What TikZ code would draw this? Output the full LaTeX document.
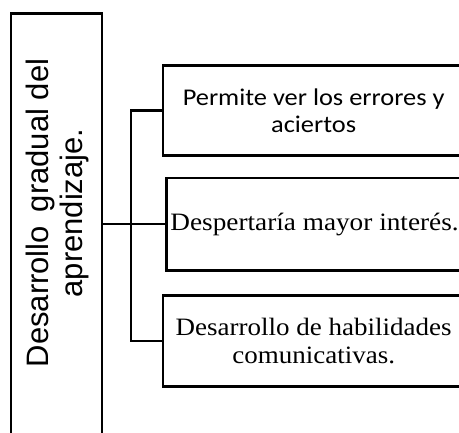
\documentclass[tikz,border=0pt]{standalone}
\usepackage{fontspec}
\setmainfont{Liberation Serif}
\newfontfamily\calfont{Carlito}
\newfontfamily\arialfont{Liberation Sans}
\usepackage{graphicx}
\newcommand{\hsx}[2][1.08]{\scalebox{#1}[1]{#2}}
\newcommand{\hcx}[1]{\scalebox{1.1}[1]{#1}}
\begin{document}
\begin{tikzpicture}[x=1pt,y=-1pt,
  box/.style={draw=black, line width=2.6pt, anchor=north west, inner sep=0pt, rectangle, align=center},
  conn/.style={draw=black, line width=2.5pt},
  thinconn/.style={draw=black, line width=1.9pt},
  sansbig/.style={font=\arialfont\fontsize{31}{34}\selectfont},
  calbox/.style={font=\calfont\fontsize{24}{27}\selectfont},
  timesbox/.style={font=\fontsize{25}{27.4}\selectfont}]
\useasboundingbox (0,0) rectangle (459,433);
\clip (0,0) rectangle (459,433);
% main box
\node[box, minimum width=91.2pt, minimum height=440pt] (main) at (9.5,12.5) {};
\node[rotate=90, align=center, sansbig, inner sep=0pt] (maintext) at (57,213)
  {Desarrollo\hspace{0.45em}gradual del\\aprendizaje.};
% boxes
\node[box, calbox, minimum width=301.3pt, minimum height=90pt] (b1) at (161.7,64)
  {\hcx{Permite ver los errores y}\\\hcx{aciertos}};
\node[box, timesbox, minimum width=296.5pt, minimum height=92.3pt] (b2) at (165,176.7)
  {\hsx[1.09]{Despertaría mayor interés.}};
\node[box, timesbox, minimum width=301.3pt, minimum height=90.7pt] (b3) at (161.7,294.3)
  {\hsx{Desarrollo de habilidades}\\\hsx{comunicativas.}};
% connectors
\coordinate (j) at (131,224);
\draw[conn] (main.east |- j) -- (j);
\draw[conn] (b1.west) -| (j) |- (b3.west);
\draw[thinconn] (j |- b2.west) -- (b2.west);
\end{tikzpicture}
\end{document}
